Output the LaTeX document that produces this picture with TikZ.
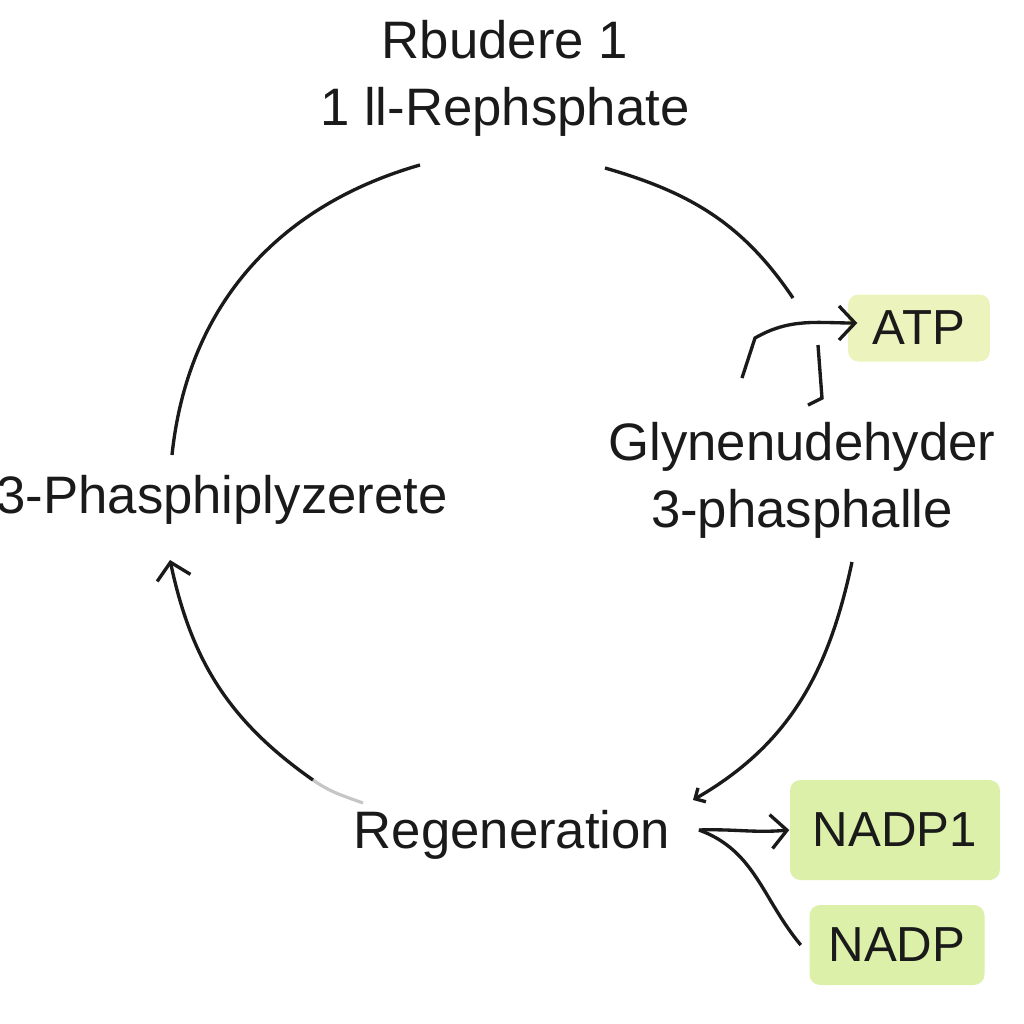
\documentclass[tikz,border=0pt]{standalone}
\usepackage{fontspec}
\setmainfont{Liberation Sans}
\usetikzlibrary{calc,positioning,arrows.meta}
\definecolor{ink}{HTML}{1A1A1A}
\definecolor{atpwash}{HTML}{EDF3BC}
\definecolor{nadpwash}{HTML}{DDF0A9}

\begin{document}
\begin{tikzpicture}[
  label/.style={text=ink,font=\fontsize{15}{19}\selectfont,align=center,inner sep=0pt},
  wash/.style={text=ink,font=\fontsize{14}{17}\selectfont,rounded corners=3pt,inner sep=0pt},
  cyc/.style={draw=ink,line width=0.95pt},
  barb/.style={-{Straight Barb[length=1.6mm,width=3.4mm]}}]
\useasboundingbox (0,0) rectangle (10.24,-10.24);
% the four stations of the cycle
\node[label] (rubp) at (5.05,-0.78) {Rbudere 1\\1 ll-Rephsphate};
\node[label] (pga) at (2.22,-5.00) {3-Phasphiplyzerete};
\node[label] (gap) at (8.02,-4.80) {Glynenudehyder\\3-phasphalle};
\node[label] (regen) at (5.12,-8.35) {Regeneration};
% highlighted cofactors
\node[wash,fill=atpwash,minimum width=1.42cm,minimum height=0.67cm] (atp) at (9.19,-3.28) {ATP};
\node[wash,fill=nadpwash,minimum width=2.1cm,minimum height=1cm] (nadpa) at (8.95,-8.30) {NADP1};
\node[wash,fill=nadpwash,minimum width=1.75cm,minimum height=0.8cm] (nadpb) at (8.97,-9.45) {NADP};
% arcs
\draw[cyc] ($(rubp)+(-0.85,-0.87)$) to[out=196,in=84] ($(pga)+(-0.50,0.45)$);
\draw[cyc] ($(rubp)+(1.00,-0.90)$) to[out=-16,in=124] ($(gap)+(-0.09,1.82)$);
\draw[cyc,-{Straight Barb[length=0.8mm,width=1.6mm]}] ($(gap)+(0.50,-0.82)$) to[out=258,in=30] ($(regen)+(1.81,0.35)$);
\draw[draw=gray!45,line width=0.9pt] ($(regen)+(-1.49,0.32)$) to[out=160,in=-35] ($(regen)+(-1.99,0.55)$);
\draw[cyc,barb] ($(regen)+(-1.99,0.55)$) to[out=145,in=-78] ($(pga)+(-0.52,-0.60)$);
% ATP branch
\draw[cyc,barb] ($(gap)+(-0.60,1.02)$) -- ++(0.13,0.40) to[out=30,in=180] ($(atp.west)+(0.1,0.05)$);
\draw[cyc] ($(gap)+(0.16,1.35)$) -- ($(gap)+(0.20,0.82)$) -- ++(-0.14,-0.07);
% NADP fork
\coordinate (fork) at ($(regen.east)+(0.28,0.05)$);
\draw[cyc,barb] (fork) to[out=2,in=185] (nadpa.west);
\draw[cyc] (fork) to[out=-20,in=130] ($(nadpb.west)+(-0.08,0)$);
\end{tikzpicture}
\end{document}
